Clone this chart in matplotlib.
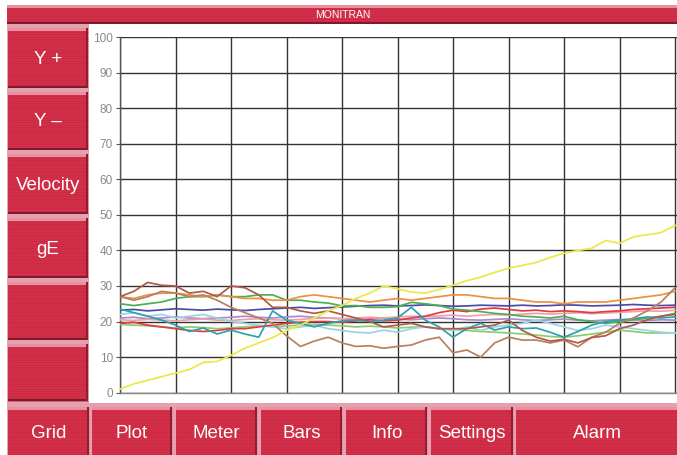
import matplotlib
matplotlib.use('Agg')
import matplotlib.pyplot as plt
from matplotlib.patches import Rectangle
import numpy as np

FONT = ['Liberation Sans Narrow', 'Liberation Sans', 'DejaVu Sans']

# ---------------- data ----------------
title = "MONITRAN"
side_buttons = ["Y +", "Y \u2013", "Velocity", "gE", "", ""]
bottom_buttons = ["Grid", "Plot", "Meter", "Bars", "Info", "Settings", "Alarm"]
y_ticks = [0, 10, 20, 30, 40, 50, 60, 70, 80, 90, 100]
n_divisions = 10

yellow = [1.0, 2.5, 3.5, 4.5, 5.5, 6.5, 8.5, 8.8, 10.5, 12.5, 14.0, 15.5, 17.5, 19.0, 21.0, 23.0,
          24.5, 26.5, 28.0, 30.0, 29.2, 28.3, 28.0, 29.0, 30.2, 31.5, 32.5, 33.8, 35.0, 35.8, 36.6,
          38.0, 39.2, 40.0, 40.6, 42.8, 42.0, 43.8, 44.4, 45.0, 47.0]
orange = [27, 26.5, 27.5, 28, 28, 27.5, 27, 27.5, 27, 26.5, 26.5, 26, 26, 27, 27.5, 27, 26.5, 26,
          25.5, 26, 26.5, 26, 26.5, 27, 27.5, 27.5, 27, 26.5, 26.5, 26, 25.5, 25.5, 25, 25.5, 25.5,
          25.5, 26, 26.5, 27, 27.5, 28.5]
brown = [27, 28.5, 31, 30.2, 30, 28, 28.5, 27, 30, 29.5, 27.5, 24, 24, 23, 22.3, 23, 22, 21, 20,
         18.5, 19, 19.5, 18.5, 18, 18, 18, 18.5, 19, 20.4, 17.5, 15.6, 14.5, 15, 14, 15.5, 16, 18,
         19, 20.5, 21.5, 22]
tan = [27, 26, 27, 28.5, 28, 27, 27.5, 26, 24, 22.5, 21, 19.5, 16, 13, 14.5, 15.6, 14, 13, 13.2,
       12.5, 13, 13.4, 14.8, 15.6, 11.2, 12, 10, 14, 15.6, 14.8, 14.8, 14, 14.8, 12.9, 15.6, 17,
       19.5, 21, 23, 25.5, 29.5]
green = [25, 24.5, 25, 25.5, 26.5, 27, 27, 27.5, 27, 27, 27.5, 27.5, 26, 26, 25.5, 25.2, 24.4,
         24.5, 24, 24, 24.2, 25.4, 25, 24.5, 23.5, 23.2, 22.8, 22.3, 22, 21.5, 21.3, 21, 21.5,
         20.5, 20, 19.5, 20, 20.5, 21, 21.5, 22.3]
darkblue = [23.2, 23.4, 23.0, 23.3, 23.6, 23.4, 23.2, 23.5, 23.3, 23.1, 23.4, 23.6, 23.8, 24.0,
            23.7, 23.9, 24.1, 24.3, 24.5, 24.6, 24.4, 24.5, 24.7, 24.5, 24.3, 24.4, 24.6, 24.5,
            24.4, 24.6, 24.4, 24.5, 24.7, 24.6, 24.4, 24.5, 24.6, 24.8, 24.6, 24.5, 24.6]
teal = [23.5, 22.5, 21.5, 20.4, 19, 17.2, 18.2, 16.5, 17.6, 16.5, 15.6, 23.0, 20.4, 19.5, 18.5,
        19.5, 20.2, 20.4, 20.0, 20.4, 21.0, 24.0, 20.4, 18.5, 15.6, 18.0, 19.5, 17.6, 18.5, 18.0,
        18.2, 17.0, 15.6, 17.2, 19.0, 20.0, 20.4, 20.8, 21.3, 21.0, 21.3]
lightcyan = [22, 22.5, 21.5, 22, 21, 21.5, 22, 21, 20, 19.5, 19, 18.5, 18, 18.5, 19, 18, 17.5, 17,
             16.8, 17.6, 17, 18, 18.5, 18, 17.5, 18.5, 17.5, 18.5, 19, 19.5, 20.4, 19.5, 18.5,
             17.5, 18, 19, 18.5, 18, 17.5, 17, 16.8]
red = [19.5, 19.8, 19, 18.5, 18, 17.5, 17.2, 17.5, 18, 18, 18.5, 19, 19.5, 19.8, 20, 20, 19.8,
       20.2, 20.5, 20.2, 20.4, 21, 21.5, 22.5, 23.2, 22.8, 23.5, 23.8, 23.4, 23, 23.2, 22.8, 23,
       22.8, 22.5, 22.8, 23, 23.4, 23.6, 23.8, 24]
pink = [20.5, 20.3, 20.6, 20.4, 20.2, 20.5, 20.7, 20.4, 20.3, 20.6, 20.8, 20.5, 20.4, 20.6, 20.9,
        21, 20.8, 21, 21.2, 21, 21.3, 21.5, 21.4, 21.6, 21.8, 21.5, 21.8, 22, 21.8, 22.1, 22.3,
        22.1, 22.3, 22.5, 22.2, 22.4, 22.6, 22.8, 23, 22.9, 23.2]
lightgreen = [19.2, 19, 18.8, 18.5, 18.2, 18.5, 18.3, 18, 18.2, 18.5, 18.8, 18.6, 18.8, 19, 19.2,
              19, 18.8, 18.5, 18.7, 18.5, 18.2, 18.4, 18.5, 18, 17.8, 17.5, 17.2, 17, 16.8, 16.5,
              16.2, 15.8, 15.6, 16, 16.5, 17, 17.6, 17.2, 16.8, 16.8, 16.8]
lavender = [21, 21.2, 20.8, 21, 21.3, 21, 20.8, 21, 21.2, 21.5, 21.2, 21, 21.3, 21.5, 21.2, 21,
            20.8, 20.5, 20.8, 21, 20.7, 20.5, 20.8, 21, 20.8, 20.5, 20.4, 20.6, 20.8, 20.5, 20.3,
            20.5, 20.7, 20.4, 20.2, 20.4, 20.6, 20.5, 20.3, 20.5, 20.4]

series = [
    (lavender, '#A98ACF'), (pink, '#F2A0A8'), (lightgreen, '#8FCB6A'), (lightcyan, '#9AD4E4'),
    (darkblue, '#4B4BA8'), (red, '#E23A44'), (green, '#4CAF50'), (teal, '#2BA3AE'),
    (orange, '#EE9040'), (tan, '#B8805E'), (brown, '#B05A48'), (yellow, '#EDE844'),
]

# ---------------- figure / UI chrome ----------------
W, H = 677, 455
fig = plt.figure(figsize=(W / 100, H / 100), dpi=100)
fig.patch.set_facecolor('white')
bg = fig.add_axes([0, 0, 1, 1], zorder=0)
bg.set_xlim(0, W)
bg.set_ylim(H, 0)
bg.axis('off')

RED = '#D42F48'
PINK = '#E6A0AE'


def rect(x0, y0, x1, y1, color, z=1):
    bg.add_patch(Rectangle((x0, y0), x1 - x0, y1 - y0, facecolor=color,
                           edgecolor='none', zorder=z))


def button(x0, y0, x1, y1, label="", fs=13):
    rect(x0, y0, x1, y1, RED, 2)
    ys = np.arange(y0 + 1.5, y1, 2.4)
    bg.hlines(ys, x0, x1, colors='#BE2840', lw=0.45, alpha=0.8, zorder=3)
    rect(x0, y0, x1, y0 + 2.6, '#E890A0', 4)
    rect(x0, y1 - 1.6, x1, y1, '#7E1A2A', 4)
    rect(x1 - 1.6, y0, x1, y1, '#8E1E30', 4)
    if label:
        bg.text((x0 + x1) / 2, (y0 + y1) / 2 + 1, label, color='white', fontsize=fs,
                ha='center', va='center', family=FONT, zorder=5)


# background bands
rect(7, 24, 89, 404, PINK, 1)
rect(7, 403, W, H, PINK, 1)
rect(90, 26, W, 403, 'white', 1)

# top title bar
button(7, 5, W + 2, 24, title, fs=7.5)

# left column
side_y = [(28, 88), (92, 150), (154, 214), (218, 278), (282, 340), (344, 401)]
for lab, (y0, y1) in zip(side_buttons, side_y):
    button(8, y0, 88, y1, lab, fs=13.5)

# bottom row
bot_x = [(8, 89), (92, 172), (176, 257), (261, 342), (346, 427), (431, 513), (516, W + 2)]
for lab, (x0, x1) in zip(bottom_buttons, bot_x):
    button(x0, 407, x1, H + 2, lab, fs=13.5)

# ---------------- plot ----------------
x0_px, x1_px = 120, 677
y0_px, y100_px = 392.7, 37.0
div_px = 55.5
ax = fig.add_axes([x0_px / W, (H - y0_px) / H, (x1_px - x0_px) / W, (y0_px - y100_px) / H],
                  zorder=2)
ax.set_facecolor('none')
ax.set_xlim(0, (x1_px - x0_px) / div_px)
ax.set_ylim(0, 100)

npts = len(yellow)
xs = np.linspace(0, n_divisions, npts)
for vals, col in series:
    ax.plot(xs, vals, color=col, lw=1.25, solid_joinstyle='round', zorder=3, clip_on=True)

ax.set_xticks(range(n_divisions + 1))
ax.set_xticklabels([])
ax.tick_params(axis='x', length=0)
ax.set_yticks(y_ticks)
ax.set_yticklabels([str(v) for v in y_ticks], fontsize=8.5, color='#8A8A8A', family=FONT)
ax.tick_params(axis='y', length=3, width=0.8, color='#555555', pad=2)
ax.grid(True, color='#333333', lw=1.0, zorder=1)
for s in ['top', 'right']:
    ax.spines[s].set_visible(False)
ax.spines['left'].set_color('#555555')
ax.spines['bottom'].set_color('#888888')
ax.spines['left'].set_linewidth(1.0)
ax.spines['bottom'].set_linewidth(1.0)

fig.savefig('out.png', dpi=100, facecolor='white')
